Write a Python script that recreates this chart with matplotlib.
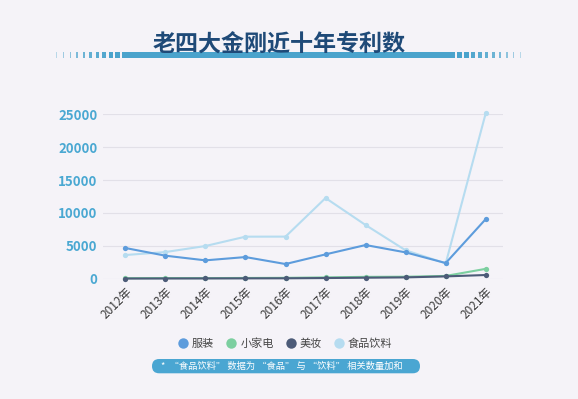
import matplotlib
matplotlib.use("Agg")
import matplotlib.pyplot as plt
from matplotlib.patches import Rectangle, FancyBboxPatch
from matplotlib.lines import Line2D

plt.rcParams['font.family'] = ['Noto Sans CJK SC', 'DejaVu Sans']

years = ["2012年", "2013年", "2014年", "2015年", "2016年", "2017年", "2018年", "2019年", "2020年", "2021年"]
clothing = [4670, 3500, 2790, 3290, 2230, 3700, 5120, 4000, 2380, 9070]
appliance = [80, 100, 90, 110, 130, 200, 280, 300, 420, 1500]
cosmetics = [20, 30, 40, 50, 60, 100, 150, 200, 350, 560]
food = [3600, 4050, 4970, 6390, 6400, 12270, 8160, 4310, 2330, 25190]
yticks = [0, 5000, 10000, 15000, 20000, 25000]

series = [
    ("食品饮料", food, "#b6dcf0"),
    ("服装", clothing, "#5d9cdc"),
    ("小家电", appliance, "#7ccfa0"),
    ("美妆", cosmetics, "#4c5b78"),
]
legend_order = ["服装", "小家电", "美妆", "食品饮料"]

W, H = 578, 399
bg = "#f5f3f8"
fig = plt.figure(figsize=(W / 100, H / 100), dpi=100, facecolor=bg)

def fx(px):
    return px / W

def fy(py):
    return 1 - py / H

ax = fig.add_axes([fx(103), fy(278.7), fx(503) - fx(103), fy(114.3) - fy(278.7)])
ax.set_facecolor(bg)
x = list(range(len(years)))
handles = {}
for name, vals, col in series:
    ax.plot(x, vals, color=col, lw=1.5, marker='o', markersize=3.8,
            markeredgewidth=0, clip_on=False, zorder=3)
    handles[name] = Line2D([], [], color=col, marker='o', linestyle='none',
                           markersize=7.5, markeredgewidth=0)

ax.set_xlim(-0.557, 9.43)
ax.set_ylim(0, 25000)
ax.set_yticks(yticks)
ax.set_yticklabels([str(v) for v in yticks], color="#4aa8d2", fontsize=9.5,
                   fontweight='bold')
ax.set_xticks(x)
ax.set_xticklabels(years, rotation=45, ha='right', rotation_mode='anchor',
                   fontsize=8.5, color="#3a3a3a")
ax.tick_params(axis='both', length=0)
ax.tick_params(axis='y', pad=4)
ax.tick_params(axis='x', pad=5)
for s in ax.spines.values():
    s.set_visible(False)
ax.grid(axis='y', color="#e2e0e8", lw=0.8, zorder=0)
ax.set_axisbelow(True)

# legend
fig.legend([handles[n] for n in legend_order], legend_order,
           loc='center', bbox_to_anchor=(fx(285), fy(343.5)), ncol=4,
           frameon=False, fontsize=8, handletextpad=0.3,
           columnspacing=1.05, handlelength=1.0,
           labelcolor="#444444")

# title decoration bar
bar_col = "#4aa3cc"
fig.patches.append(Rectangle((fx(122), fy(58.3)), fx(455) - fx(122),
                             fy(52.3) - fy(58.3), transform=fig.transFigure,
                             facecolor=bar_col, edgecolor='none', zorder=1))
widths = [5, 4.5, 4, 3.5, 3, 2.5, 2, 1.5, 1.2, 1]
alphas = [1, 1, 0.95, 0.9, 0.85, 0.8, 0.7, 0.6, 0.5, 0.35]
for i, (w, a) in enumerate(zip(widths, alphas)):
    xl = 122 - 2 - i * 7 - w
    fig.patches.append(Rectangle((fx(xl), fy(58.3)), fx(w), fy(52.3) - fy(58.3),
                                 transform=fig.transFigure, facecolor=bar_col,
                                 edgecolor='none', alpha=a, zorder=1))
    xr = 455 + 2 + i * 7
    fig.patches.append(Rectangle((fx(xr), fy(58.3)), fx(w), fy(52.3) - fy(58.3),
                                 transform=fig.transFigure, facecolor=bar_col,
                                 edgecolor='none', alpha=a, zorder=1))

fig.text(fx(279), fy(44), "老四大金刚近十年专利数", ha='center', va='center',
         fontsize=16.6, fontweight='bold', color="#1f4a78", zorder=5)

# footnote pill
pill = FancyBboxPatch((fx(152), fy(373.3)), fx(420 - 152), fy(359) - fy(373.3),
                      boxstyle="round,pad=0,rounding_size=%f" % (fx(7.15)),
                      transform=fig.transFigure, facecolor="#4aa6d2",
                      edgecolor='none', mutation_aspect=W / H)
fig.patches.append(pill)
fig.text(fx(282), fy(366.2), "*  “食品饮料” 数据为 “食品” 与 “饮料” 相关数量加和",
         ha='center', va='center', fontsize=6.7, color="white", zorder=5)

fig.savefig("out.png", dpi=100, facecolor=bg)
